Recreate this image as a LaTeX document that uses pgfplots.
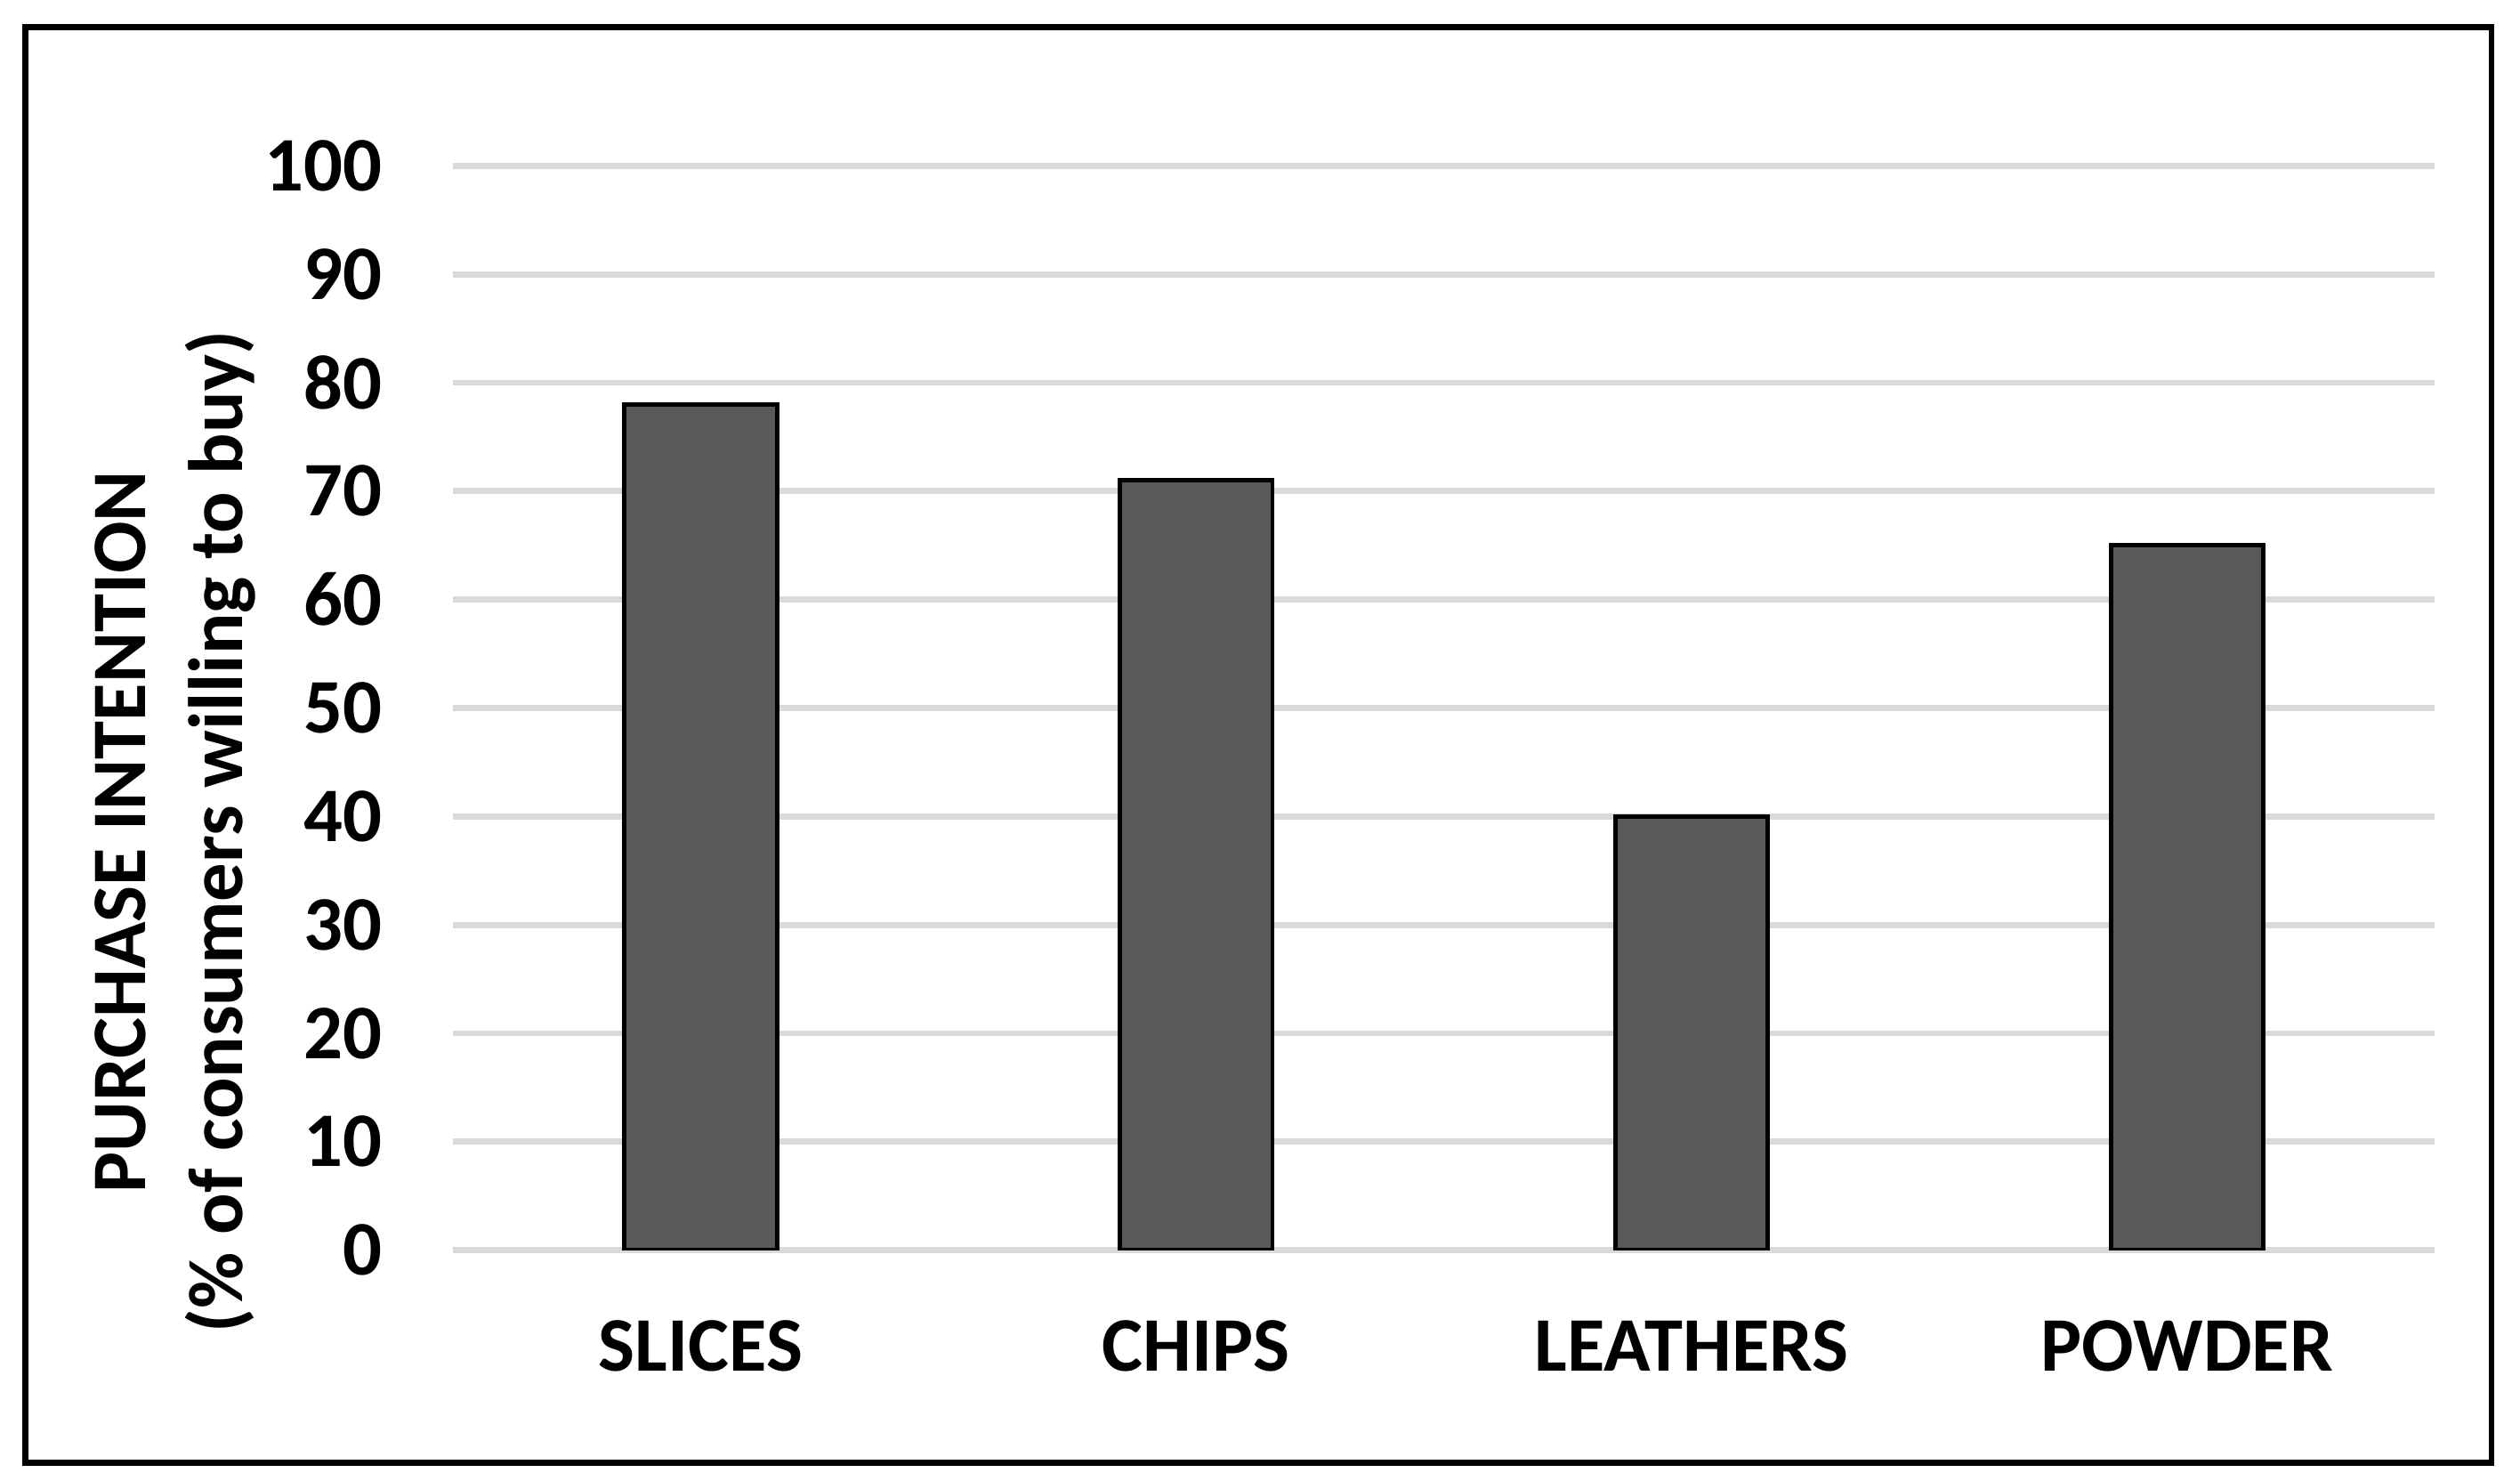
\documentclass[border=0pt]{standalone}
\usepackage{pgfplots}
\pgfplotsset{compat=1.18}
\usepackage{fontspec}
\setmainfont{Carlito}
\definecolor{barfill}{HTML}{595959}
\definecolor{gridc}{HTML}{D9D9D9}
\begin{document}
\begin{tikzpicture}
\path[use as bounding box] (-140.9pt,-71.65pt) rectangle (643.1pt,388.85pt);
\draw[line width=1.9pt] (-132.95pt,-66.15pt) rectangle (634.25pt,380.35pt);
\begin{axis}[
  scale only axis,
  width=616.6pt, height=337.25pt,
  at={(0,0)}, anchor=south west,
  xmin=-0.5, xmax=3.5, ymin=0, ymax=100,
  ytick={0,10,...,100},
  xtick={0,1,2,3},
  xticklabels={SLICES,CHIPS,LEATHERS,POWDER},
  axis line style={draw=none},
  major tick length=0pt,
  ymajorgrids,
  grid style={gridc, line width=1.9pt},
  /pgf/number format/assume math mode=true,
  ticklabel style={font=\bfseries\fontsize{24}{28}\selectfont},
  yticklabel style={anchor=east, inner sep=0pt, xshift=-21.9pt},
  xticklabel style={anchor=base, yshift=-37.7pt},
  ylabel={PURCHASE INTENTION\\(\% of consumers willing to buy)},
  every axis y label/.style={at={(rel axis cs:-0.1401,0.3858)}, rotate=90, anchor=center, align=center, font=\bfseries\fontsize{24}{30}\selectfont},
]
\addplot[ybar, bar width=47.5pt, fill=barfill, draw=black, line width=1.35pt] coordinates {(0,78) (1,71) (2,40) (3,65)};
\end{axis}
\end{tikzpicture}
\end{document}
